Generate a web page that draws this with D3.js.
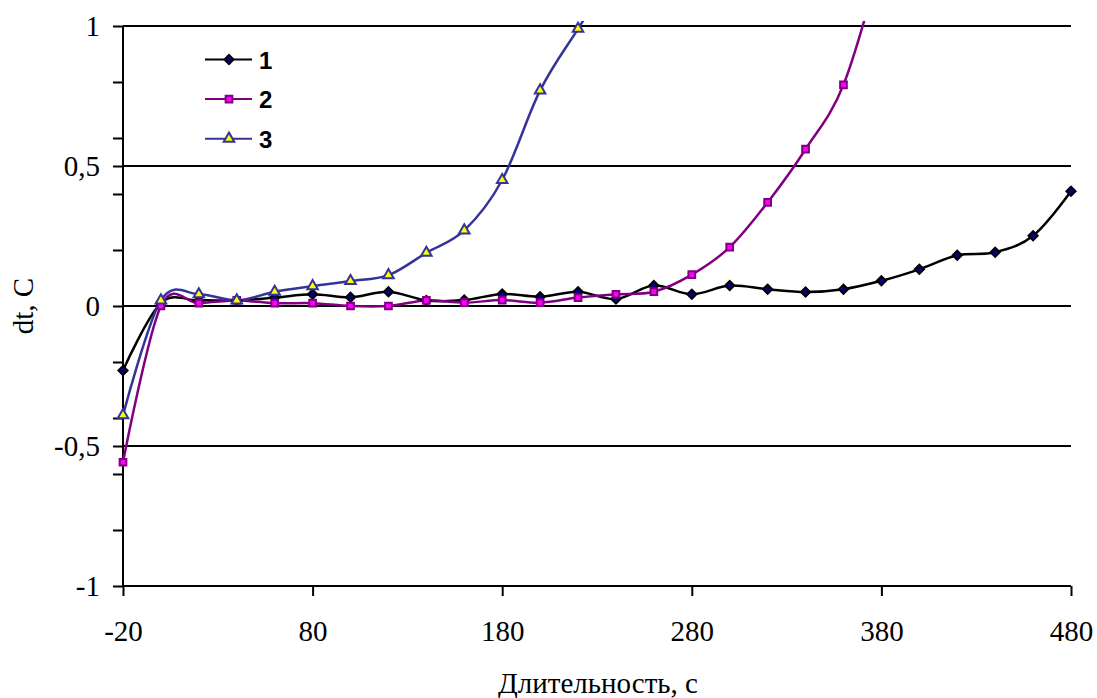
<!DOCTYPE html>
<html>
<head>
<meta charset="utf-8">
<script src="https://cdn.jsdelivr.net/npm/d3@7"></script>
<style>
	body { margin: 0; background: #fff; }
	svg { display: block; }
	text.tickText { font-family: "Liberation Serif", "Times New Roman", serif; font-size: 29px; fill: #000; }
	text.legendText { font-family: "Liberation Sans", Arial, sans-serif; font-size: 24px; font-weight: bold; fill: #000; }
</style>
</head>
<body>
<div id="canvas"></div>
<script>
// time, s
var times = [-20, 0, 20, 40, 60, 80, 100, 120, 140, 160, 180, 200, 220, 240, 260, 280, 300, 320, 340, 360, 380, 400, 420, 440, 460, 480];

var series1 = [-0.23, 0.01, 0.02, 0.02, 0.03, 0.042, 0.031, 0.051, 0.02, 0.021, 0.043, 0.033, 0.051, 0.025, 0.073, 0.042, 0.073, 0.06, 0.05, 0.06, 0.09, 0.131, 0.181, 0.192, 0.251, 0.41];
var series2 = [-0.558, 0.0, 0.01, 0.02, 0.01, 0.01, 0.0, 0.0, 0.02, 0.012, 0.021, 0.012, 0.03, 0.042, 0.051, 0.112, 0.21, 0.37, 0.56, 0.79, 1.24];
var series3 = [-0.39, 0.02, 0.042, 0.02, 0.051, 0.071, 0.089, 0.11, 0.19, 0.27, 0.45, 0.77, 0.99, 1.2];

var seriesNames = ["1", "2", "3"];
var yLabels = [1, 0.5, 0, -0.5, -1];
var xLabels = [-20, 80, 180, 280, 380, 480];

var W = 1097, H = 698;
var plotLeft = 123, plotRight = 1071, plotTop = 26, plotBottom = 586;

var svg = d3.select("#canvas")
	.append("svg")
	.attr("width", W)
	.attr("height", H);

var xScale = d3.scaleLinear().domain([-20, 480]).range([plotLeft, plotRight]);
var yScale = d3.scaleLinear().domain([-1, 1]).range([plotBottom, plotTop]);

// gridlines at major ticks
svg.append("g")
	.selectAll("line")
	.data(yLabels)
	.enter()
	.append("line")
	.attr("x1", plotLeft)
	.attr("x2", plotRight)
	.attr("y1", function(d){ return yScale(d); })
	.attr("y2", function(d){ return yScale(d); })
	.attr("stroke", "#000")
	.attr("stroke-width", 2);

// y axis, minor ticks every 0.2, labels on major values
var yAxis = d3.axisLeft(yScale)
	.tickValues(d3.range(-1, 1.01, 0.2).concat([-0.5, 0.5]))
	.tickSize(10)
	.tickPadding(13)
	.tickFormat(function(d){
		var r = Math.round(d * 10) / 10;
		if (yLabels.indexOf(r) < 0) return "";
		return String(r).replace(".", ",");
	});

var yG = svg.append("g")
	.attr("transform", "translate(" + plotLeft + ",0)")
	.call(yAxis);
yG.select(".domain").attr("stroke-width", 2).attr("d", "M0," + plotTop + "V" + plotBottom);
yG.selectAll(".tick line").attr("stroke-width", 2);
yG.selectAll(".tick text").attr("class", "tickText");

// x axis
var xAxis = d3.axisBottom(xScale)
	.tickValues(xLabels)
	.tickSize(10)
	.tickPadding(0)
	.tickFormat(function(d){ return String(d); });

var xG = svg.append("g")
	.attr("transform", "translate(0," + plotBottom + ")")
	.call(xAxis);
xG.select(".domain").attr("stroke-width", 2).attr("d", "M" + plotLeft + ",0H" + plotRight);
xG.selectAll(".tick line").attr("stroke-width", 2);
xG.selectAll(".tick text").attr("class", "tickText").attr("y", 55).attr("dy", null);

// axis titles
svg.append("text")
	.attr("class", "tickText")
	.attr("x", 598)
	.attr("y", 693)
	.attr("text-anchor", "middle")
	.text("Длительность, с");

svg.append("text")
	.attr("class", "tickText")
	.attr("transform", "translate(33," + yScale(0) + ") rotate(-90)")
	.attr("text-anchor", "middle")
	.text("dt, C");

// clip for lines
svg.append("clipPath")
	.attr("id", "plotClip")
	.append("rect")
	.attr("x", plotLeft - 10)
	.attr("y", plotTop - 5)
	.attr("width", plotRight - plotLeft + 20)
	.attr("height", plotBottom - plotTop + 10);

var styles = [
	{ line: "#000000", fill: "#000080", stroke: "#000000", shape: d3.symbolSquare, size: 42, rot: 45 },
	{ line: "#800080", fill: "#FF00FF", stroke: "#800080", shape: d3.symbolSquare, size: 45, rot: 0 },
	{ line: "#333399", fill: "#FFFF00", stroke: "#333399", shape: d3.symbolTriangle, size: 48, rot: 0 }
];

var allSeries = [series1, series2, series3];

var lineGen = d3.line()
	.x(function(d){ return xScale(d.t); })
	.y(function(d){ return yScale(d.v); })
	.curve(d3.curveCardinal.tension(0));

var plotG = svg.append("g").attr("clip-path", "url(#plotClip)");

allSeries.forEach(function(values, i){
	var pts = values.map(function(v, j){ return { t: times[j], v: v }; });
	plotG.append("path")
		.datum(pts)
		.attr("d", lineGen)
		.attr("fill", "none")
		.attr("stroke", styles[i].line)
		.attr("stroke-width", 2.5);
});

allSeries.forEach(function(values, i){
	var pts = values.map(function(v, j){ return { t: times[j], v: v }; })
		.filter(function(d){ return d.v <= 1.0; });
	var st = styles[i];
	svg.append("g")
		.selectAll("path")
		.data(pts)
		.enter()
		.append("path")
		.attr("d", d3.symbol().type(st.shape).size(st.size))
		.attr("transform", function(d){
			return "translate(" + xScale(d.t) + "," + yScale(d.v) + ") rotate(" + st.rot + ")";
		})
		.attr("fill", st.fill)
		.attr("stroke", st.stroke)
		.attr("stroke-width", 2);
});

// legend
svg.selectAll(".legend")
	.data(seriesNames)
	.enter()
	.append("g")
	.attr("class", "legend")
	.attr("transform", function(d, i){
		return "translate(205," + (59.5 + i * 39.6) + ")";
	})
	.each(function(d, i){
		var st = styles[i];
		d3.select(this)
			.append("line")
			.attr("x1", 0)
			.attr("x2", 47)
			.attr("y1", 0)
			.attr("y2", 0)
			.attr("stroke", st.line)
			.attr("stroke-width", 2);
		d3.select(this)
			.append("path")
			.attr("d", d3.symbol().type(st.shape).size(st.size))
			.attr("transform", "translate(24,0) rotate(" + st.rot + ")")
			.attr("fill", st.fill)
			.attr("stroke", st.stroke)
			.attr("stroke-width", 2);
		d3.select(this)
			.append("text")
			.attr("class", "legendText")
			.attr("x", 54)
			.attr("y", 9)
			.text(d);
	});
</script>
</body>
</html>
